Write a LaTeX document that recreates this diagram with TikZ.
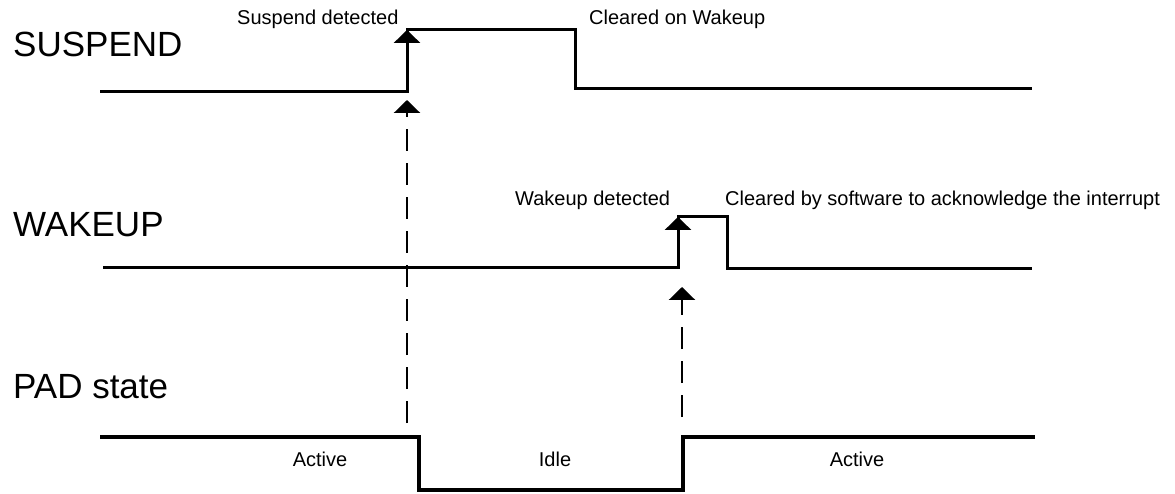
\documentclass[tikz,border=0pt]{standalone}
\usepackage{fontspec}
\setmainfont{Liberation Sans}
\usetikzlibrary{arrows.meta}

\begin{document}
\begin{tikzpicture}[
    x=1pt, y=1pt,
    font=\rmfamily,
    line join=miter,
    every node/.style={font=\rmfamily, inner sep=0pt},
    siglabel/.style={font=\rmfamily\fontsize{35}{37}\selectfont, anchor=base west},
    note/.style={font=\rmfamily\fontsize{20}{22}\selectfont, anchor=base west},
    wave/.style={line width=3pt},
    padwave/.style={line width=4.5pt},
    edgetip/.style={line width=3pt, -{Triangle[width=26pt,length=13pt]}},
    trigger/.style={line width=2.5pt, dash pattern=on 22pt off 12pt,
      -{Triangle[width=26pt,length=13pt]}},
  ]
  \useasboundingbox (0,0) rectangle (1175,493);

  % ---------- Signal names -------------------------------------------------
  \node[siglabel] (suspendname) at (13, 436) {SUSPEND};
  \node[siglabel] (wakeupname) at (13, 256) {WAKEUP};
  \node[siglabel] (padname) at (13, 95) {PAD state};

  % ---------- SUSPEND ------------------------------------------------------
  % low until 407, high 407 -> 575, low again to 1032
  \draw[wave] (100, 401) -- (407, 401) -- (407, 463) -- (575, 463)
    -- (575, 404) -- (1032, 404);
  \coordinate (susrise) at (407, 463);
  \draw[edgetip] (407, 430) -- (susrise);
  \node[note] (susdet) at (237, 468) {Suspend detected};
  \node[note] (suscleared) at (589, 468) {Cleared on Wakeup};

  % ---------- WAKEUP -------------------------------------------------------
  \draw[wave] (103, 225) -- (678, 225) -- (678, 276) -- (727, 276)
    -- (727, 224) -- (1032, 224);
  \coordinate (wakerise) at (678, 276);
  \draw[edgetip] (678, 250) -- (wakerise);
  \node[note] (wakedet) at (515, 287) {Wakeup detected};
  \node[note] (wakecleared) at (725, 287)
    {Cleared by software to acknowledge the interrupt};

  % ---------- PAD state ----------------------------------------------------
  \draw[padwave] (100, 56) -- (419, 56) -- (419, 3) -- (683, 3)
    -- (683, 56) -- (1035, 56);
  \node[note, anchor=base] (active1) at (320, 27) {Active};
  \node[note, anchor=base] (idle) at (555, 27) {Idle};
  \node[note, anchor=base] (active2) at (857, 27) {Active};

  % ---------- Triggers (dashed, bottom up) ---------------------------------
  \coordinate (padidle) at (407, 70);
  \coordinate (susarrow) at (407, 393);
  \draw[trigger] (padidle) -- (susarrow);

  \coordinate (padwake) at (682, 76);
  \coordinate (wakearrow) at (682, 206);
  \draw[trigger] (padwake) -- (wakearrow);

\end{tikzpicture}
\end{document}
